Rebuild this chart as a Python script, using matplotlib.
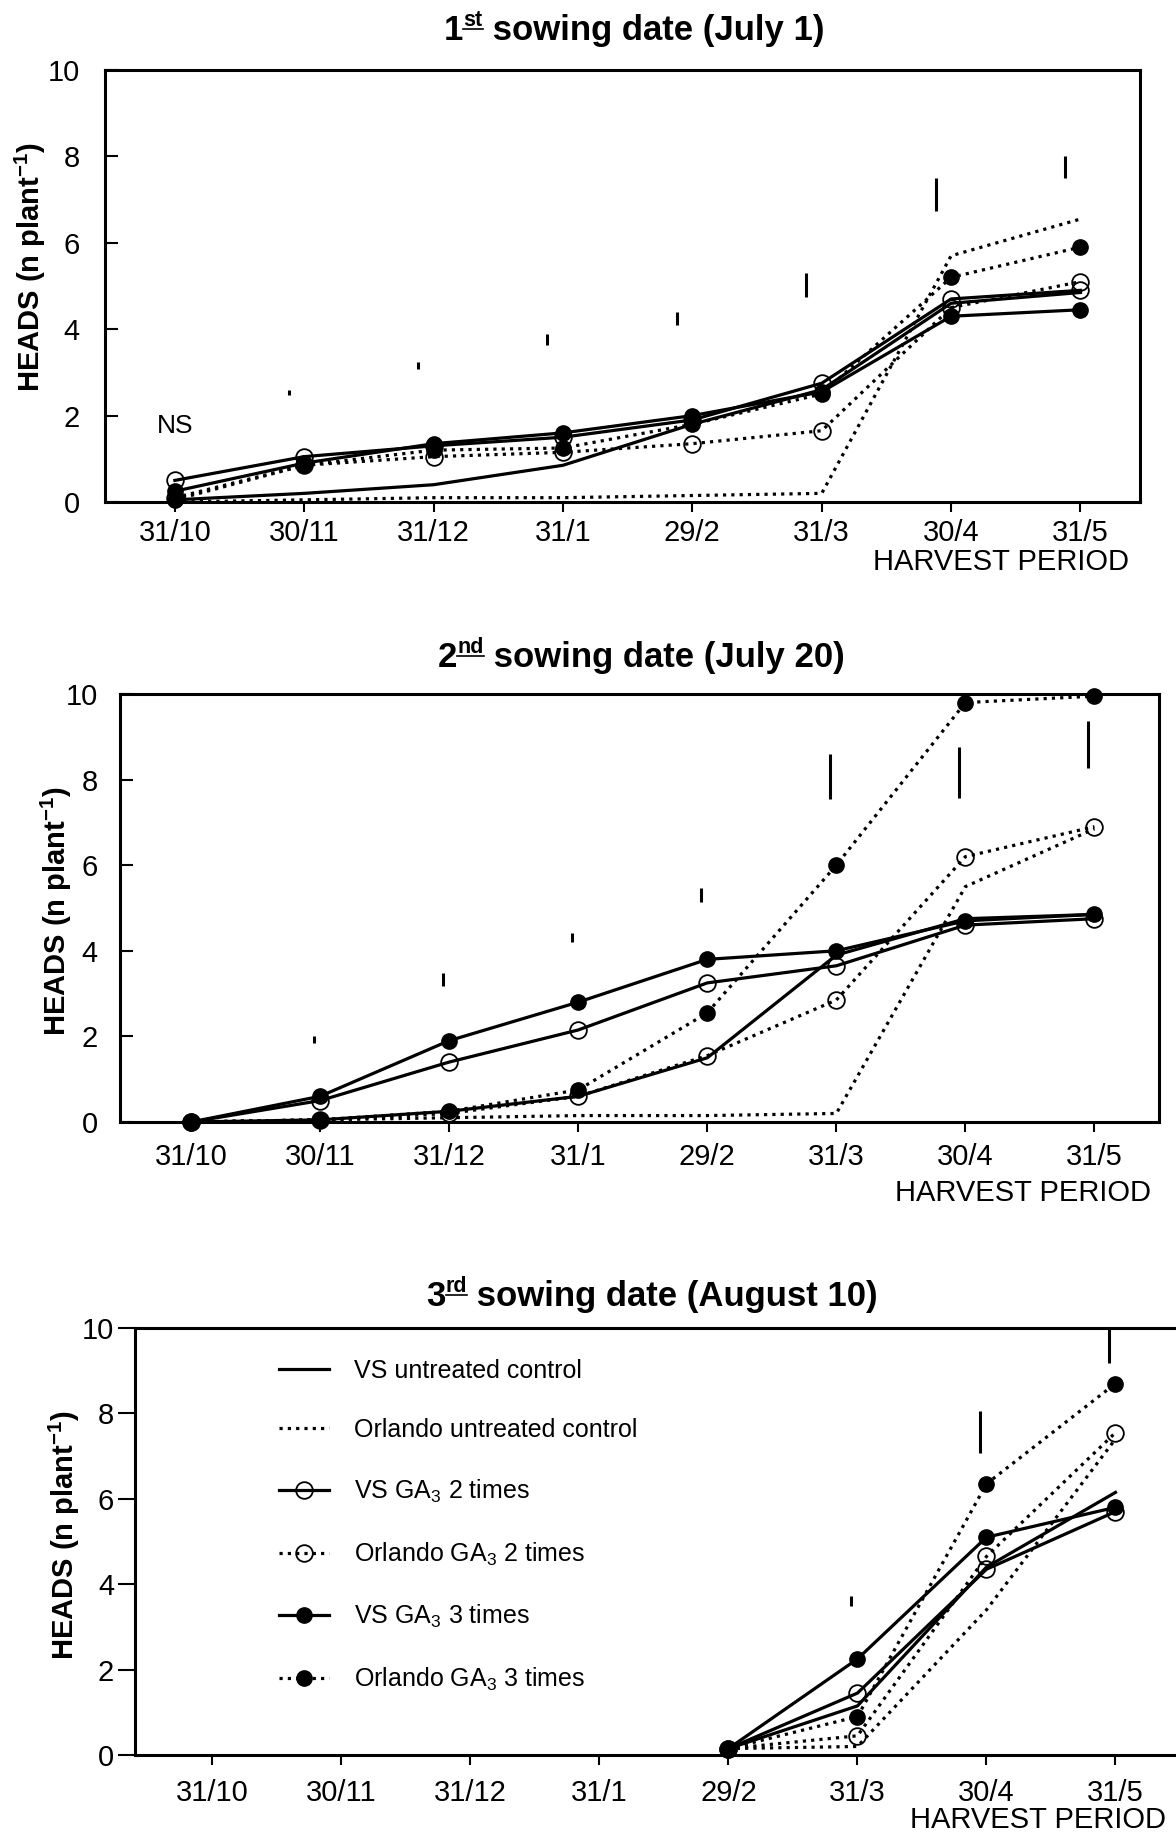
import numpy as np
import matplotlib.pyplot as plt

plt.rcParams['font.family'] = ['Liberation Sans', 'DejaVu Sans']
plt.rcParams['mathtext.fontset'] = 'custom'
plt.rcParams['mathtext.rm'] = 'Liberation Sans'
plt.rcParams['mathtext.it'] = 'Liberation Sans:italic'
plt.rcParams['mathtext.bf'] = 'Liberation Sans:bold'

# harvest dates (x categories)
harvest = ['31/10', '30/11', '31/12', '31/1', '29/2', '31/3', '30/4', '31/5']
names = ['VS untreated control', 'Orlando untreated control',
         'VS GA$_3$ 2 times', 'Orlando GA$_3$ 2 times',
         'VS GA$_3$ 3 times', 'Orlando GA$_3$ 3 times']
nan = np.nan

# 1st sowing date (July 1)
s1_vs_ctrl = [0.05, 0.2, 0.4, 0.85, 1.8, 2.6, 4.6, 4.85]
s1_or_ctrl = [0.0, 0.05, 0.1, 0.1, 0.15, 0.2, 5.7, 6.55]
s1_vs_ga2 = [0.5, 1.05, 1.3, 1.5, 1.9, 2.75, 4.7, 4.9]
s1_or_ga2 = [0.1, 0.85, 1.05, 1.15, 1.35, 1.65, 4.5, 5.1]
s1_vs_ga3 = [0.25, 0.9, 1.35, 1.6, 2.0, 2.55, 4.3, 4.45]
s1_or_ga3 = [0.05, 0.85, 1.2, 1.25, 1.8, 2.5, 5.2, 5.9]
s1_lsd_lo = [2.47, 3.07, 3.64, 4.1, 4.75, 6.73, 7.5]
s1_lsd_hi = [2.6, 3.24, 3.88, 4.4, 5.3, 7.5, 8.0]

# 2nd sowing date (July 20)
s2_vs_ctrl = [0.0, 0.05, 0.25, 0.6, 1.5, 3.9, 4.75, 4.85]
s2_or_ctrl = [0.0, 0.05, 0.1, 0.15, 0.15, 0.2, 5.5, 6.85]
s2_vs_ga2 = [0.0, 0.5, 1.4, 2.15, 3.25, 3.65, 4.6, 4.75]
s2_or_ga2 = [0.0, 0.05, 0.2, 0.6, 1.55, 2.85, 6.2, 6.9]
s2_vs_ga3 = [0.0, 0.6, 1.9, 2.8, 3.8, 4.0, 4.7, 4.85]
s2_or_ga3 = [0.0, 0.05, 0.25, 0.75, 2.55, 6.0, 9.8, 9.95]
s2_lsd_lo = [1.84, 3.17, 4.2, 5.15, 7.54, 7.57, 8.28]
s2_lsd_hi = [2.02, 3.47, 4.42, 5.47, 8.6, 8.77, 9.36]

# 3rd sowing date (August 10)
s3_vs_ctrl = [nan, nan, nan, nan, 0.15, 1.15, 4.4, 6.15]
s3_or_ctrl = [nan, nan, nan, nan, 0.15, 0.2, 3.4, 7.4]
s3_vs_ga2 = [nan, nan, nan, nan, 0.15, 1.45, 4.35, 5.7]
s3_or_ga2 = [nan, nan, nan, nan, 0.15, 0.45, 4.65, 7.55]
s3_vs_ga3 = [nan, nan, nan, nan, 0.15, 2.25, 5.1, 5.8]
s3_or_ga3 = [nan, nan, nan, nan, 0.15, 0.9, 6.35, 8.7]
s3_lsd_lo = [3.49, 7.07, 9.19]
s3_lsd_hi = [3.72, 8.05, 9.97]

x = np.arange(len(harvest))
dot = (0, (1, 1.6))
styles = [
    dict(ls='-', marker=None),
    dict(ls=dot, marker=None),
    dict(ls='-', marker='o', ms=12, mfc='none', mew=1.3),
    dict(ls=dot, marker='o', ms=12, mfc='none', mew=1.3),
    dict(ls='-', marker='o', ms=11, mfc='k'),
    dict(ls=dot, marker='o', ms=11, mfc='k'),
]

W, H = 1176, 1838
fig = plt.figure(figsize=(W / 100, H / 100), dpi=100)


def panel(rect, xlim, series, lsd_x, lsd_lo, lsd_hi, ydir, ylen, ypad, xpad):
    ax = fig.add_axes(rect)
    for vals, st, nm in zip(series, styles, names):
        ax.plot(x, vals, color='k', lw=2.3, clip_on=False, label=nm, **st)
    ax.vlines(lsd_x, lsd_lo, lsd_hi, color='k', lw=2.2)
    ax.set_xlim(*xlim)
    ax.set_ylim(0, 10)
    ax.set_xticks(x)
    ax.set_xticklabels(harvest)
    ax.set_yticks(range(0, 11, 2))
    ax.tick_params(axis='x', direction='out', length=7, width=1.5,
                   labelsize=21, pad=xpad)
    ax.tick_params(axis='y', direction=ydir, length=ylen, width=1.5,
                   labelsize=21, pad=ypad)
    for sp in ax.spines.values():
        sp.set_linewidth(2.2)
    return ax


ax1 = panel([105 / W, 1 - 502 / H, 1035 / W, 432 / H], (-0.54, 7.46),
            [s1_vs_ctrl, s1_or_ctrl, s1_vs_ga2, s1_or_ga2, s1_vs_ga3, s1_or_ga3],
            x[1:] - 0.12, s1_lsd_lo, s1_lsd_hi, 'in', 9, 18, 5)
ax1.text(0, 1.75, 'NS', ha='center', va='center', fontsize=19)

ax2 = panel([120 / W, 1 - 1122 / H, 1039 / W, 428 / H], (-0.55, 7.5),
            [s2_vs_ctrl, s2_or_ctrl, s2_vs_ga2, s2_or_ga2, s2_vs_ga3, s2_or_ga3],
            x[1:] - 0.05, s2_lsd_lo, s2_lsd_hi, 'in', 9, 16, 8)

ax3 = panel([135 / W, 1 - 1755 / H, 1045 / W, 427 / H], (-0.6, 7.5),
            [s3_vs_ctrl, s3_or_ctrl, s3_vs_ga2, s3_or_ga2, s3_vs_ga3, s3_or_ga3],
            x[5:] - 0.05, s3_lsd_lo, s3_lsd_hi, 'out', 12, 3, 10)
ax3.legend(loc='upper left', bbox_to_anchor=(0.138, 0.928), frameon=False,
           fontsize=18, handlelength=2.0, handletextpad=1.0, labelspacing=1.42,
           borderpad=0, borderaxespad=0, numpoints=1)

# y labels
for xf, yc in [(30, 267), (56, 911), (64, 1535)]:
    fig.text(xf / W, 1 - yc / H, 'HEADS (n plant$^{\\mathbf{-1}}$)', rotation=90,
             ha='center', va='center', fontsize=21, fontweight='bold')

# x labels
for xr, yc in [(1129, 562), (1151, 1193), (1166, 1820)]:
    fig.text(xr / W, 1 - yc / H, 'HARVEST PERIOD', ha='right', va='center',
             fontsize=21)

# titles with underlined superscript
renderer = fig.canvas.get_renderer()


def sowing_title(xc, base, num, sup, rest):
    size = 25
    yb = 1 - base / H
    t1 = fig.text(0, yb, num, fontsize=size, fontweight='bold', va='baseline')
    t2 = fig.text(0, yb + 14 / H, sup, fontsize=size * 0.62, fontweight='bold',
                  va='baseline')
    t3 = fig.text(0, yb, rest, fontsize=size, fontweight='bold', va='baseline')
    w1 = t1.get_window_extent(renderer).width
    w2 = t2.get_window_extent(renderer).width
    w3 = t3.get_window_extent(renderer).width
    x0 = xc - (w1 + w2 + w3) / 2
    t1.set_x(x0 / W)
    t2.set_x((x0 + w1) / W)
    t3.set_x((x0 + w1 + w2) / W)
    fig.add_artist(plt.Line2D([(x0 + w1) / W, (x0 + w1 + w2) / W],
                              [yb + 11 / H, yb + 11 / H], color='k', lw=1.2,
                              transform=fig.transFigure))


sowing_title(634, 40, '1', 'st', ' sowing date (July 1)')
sowing_title(641, 667, '2', 'nd', ' sowing date (July 20)')
sowing_title(652, 1306, '3', 'rd', ' sowing date (August 10)')

fig.savefig('out.png', dpi=100)
